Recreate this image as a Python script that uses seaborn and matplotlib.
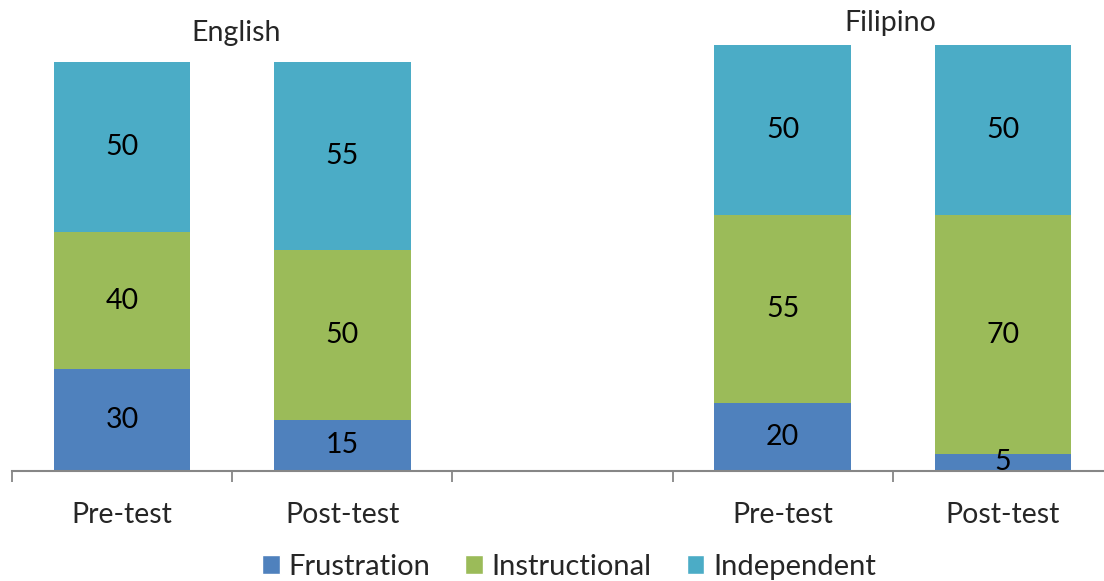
import pandas as pd
import matplotlib
matplotlib.use("Agg")
import matplotlib.pyplot as plt
from matplotlib.patches import Patch
from matplotlib.ticker import FixedLocator
import seaborn as sns

# data
slots = ["E-Pre", "E-Post", "gap", "F-Pre", "F-Post"]
slot_labels = ["Pre-test", "Post-test", "", "Pre-test", "Post-test"]
bar_slots = ["E-Pre", "E-Post", "F-Pre", "F-Post"]
frustration = [30, 15, 20, 5]
instructional = [40, 50, 55, 70]
independent = [50, 55, 50, 50]
levels = ["Frustration", "Instructional", "Independent"]
colors = ["#4F81BD", "#9BBB59", "#4BACC6"]
groups = ["English", "Filipino"]
group_title_x = [0.52, 3.49]
group_title_y = [128.5, 131.5]

sns.set_style("white")
plt.rcParams["font.family"] = ["Lato", "DejaVu Sans"]
FS = 20.5

df = pd.DataFrame({
    "slot": bar_slots,
    "Frustration": frustration,
    "Instructional": instructional,
    "Independent": independent,
})
df["c1"] = df["Frustration"]
df["c2"] = df["c1"] + df["Instructional"]
df["c3"] = df["c2"] + df["Independent"]

fig = plt.figure(figsize=(11.04, 5.81), dpi=100)
ax = fig.add_axes([12 / 1104, 110 / 581, 1101 / 1104, 460 / 581])

# stacked bars drawn as cumulative layers, tallest first
for col, color in zip(["c3", "c2", "c1"], colors[::-1]):
    sns.barplot(data=df, x="slot", y=col, order=slots, color=color,
                width=0.62, saturation=1, ax=ax, errorbar=None, linewidth=0)

# segment labels
for i, row in df.iterrows():
    x = slots.index(row["slot"])
    base = 0
    for lev in levels:
        v = row[lev]
        ax.text(x, base + v / 2, str(v), ha="center", va="center",
                fontsize=FS, color="black")
        base += v

for g, tx, ty in zip(groups, group_title_x, group_title_y):
    ax.text(tx, ty, g, ha="center", va="center", fontsize=FS, clip_on=False)

ax.set_xlim(-0.5, 4.5)
ax.set_ylim(0, 135)
ax.set_xlabel("")
ax.set_ylabel("")
ax.set_yticks([])
ax.set_xticks(range(len(slots)))
ax.set_xticklabels(slot_labels, fontsize=FS)
ax.xaxis.set_minor_locator(FixedLocator([-0.5 + k for k in range(6)]))
ax.tick_params(axis="x", which="major", bottom=True, length=0, pad=22)
ax.tick_params(axis="x", which="minor", bottom=True, length=8, width=1.3,
               color="#868686", direction="out")
for s in ["top", "right", "left"]:
    ax.spines[s].set_visible(False)
ax.spines["bottom"].set_color("#868686")
ax.spines["bottom"].set_linewidth(1.5)

handles = [Patch(facecolor=c, label=l) for c, l in zip(colors, levels)]
fig.legend(handles=handles, loc="center", bbox_to_anchor=(569 / 1104, 1 - 567 / 581),
           ncol=3, frameon=False, fontsize=21, handlelength=0.6, handleheight=0.6,
           handletextpad=0.3, columnspacing=1.2)

fig.savefig("out.png", dpi=100)
